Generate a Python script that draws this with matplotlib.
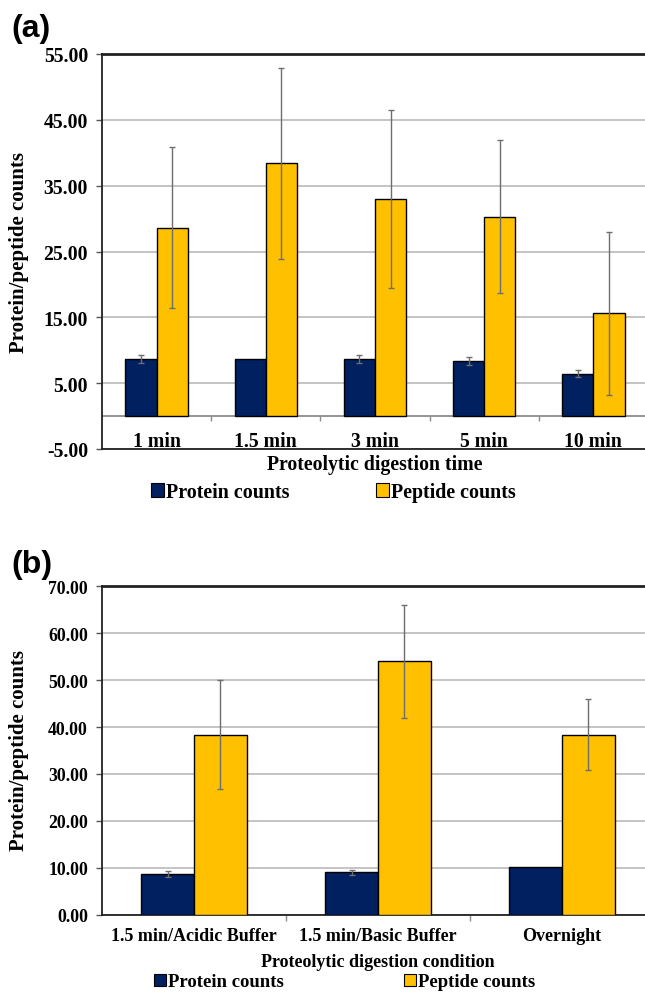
import matplotlib
matplotlib.use("Agg")
import matplotlib.pyplot as plt
from matplotlib.patches import Patch
import numpy as np

# panel (a): digestion time
times = ["1 min", "1.5 min", "3 min", "5 min", "10 min"]
prot_a = [8.7, 8.7, 8.7, 8.35, 6.45]
prot_a_err = [0.63, np.nan, 0.63, 0.6, 0.58]
pep_a = [28.6, 38.4, 33.0, 30.3, 15.6]
pep_a_err = [12.25, 14.5, 13.5, 11.6, 12.35]

# panel (b): digestion condition
conds = ["1.5 min/Acidic Buffer", "1.5 min/Basic Buffer", "Overnight"]
prot_b = [8.74, 9.0, 10.1]
prot_b_err = [0.64, 0.5, np.nan]
pep_b = [38.4, 54.0, 38.4]
pep_b_err = [11.6, 12.1, 7.5]

NAVY = "#002060"
GOLD = "#FFC000"
GRID = "#BFBFBF"
SERIF = "Liberation Serif"

W = 1 / 3.5  # excel gap width 150%


def draw_panel(ax, cats, prot, prot_err, pep, pep_err, yticks, ylim, xlabel,
               lab_y, xlab_y, fs, tfs):
    x = np.arange(len(cats))
    ekw = dict(ecolor="#6e6e6e", elinewidth=1.0, capsize=2.5, capthick=1.0)
    ax.bar(x - W / 2, prot, W, color=NAVY, edgecolor="black", linewidth=1.0,
           yerr=prot_err, error_kw=ekw, zorder=3)
    ax.bar(x + W / 2, pep, W, color=GOLD, edgecolor="black", linewidth=1.0,
           yerr=pep_err, error_kw=ekw, zorder=3)
    ax.set_xlim(-0.5, len(cats) - 0.5)
    ax.set_ylim(*ylim)
    ax.set_yticks(yticks)
    ax.set_yticklabels(["%.2f" % v for v in yticks], fontfamily=SERIF,
                       fontweight="bold", fontsize=tfs)
    ax.yaxis.grid(True, color=GRID, linewidth=1.3, zorder=0)
    ax.set_axisbelow(True)
    ax.tick_params(axis="y", length=4, width=1, color="#555555", pad=6)
    ax.set_xticks([])
    for sp in ["left", "bottom"]:
        ax.spines[sp].set_linewidth(1.3)
        ax.spines[sp].set_color("#222222")
    ax.spines["top"].set_linewidth(2.0)
    ax.spines["top"].set_color("#222222")
    ax.spines["right"].set_visible(False)
    for i, c in enumerate(cats):
        ax.text(i, lab_y, c, ha="center", va="center", fontfamily=SERIF,
                fontweight="bold", fontsize=fs, clip_on=False)
    ax.text(0.5, xlab_y, xlabel, transform=ax.transAxes, ha="center", va="center",
            fontfamily=SERIF, fontweight="bold", fontsize=fs)


fig = plt.figure(figsize=(6.45, 9.95), dpi=100)

ax1 = fig.add_axes([102 / 645, 1 - 450 / 995, 546 / 645, 395 / 995])
draw_panel(ax1, times, prot_a, prot_a_err, pep_a, pep_a_err,
           [-5, 5, 15, 25, 35, 45, 55], (-5, 55),
           "Proteolytic digestion time", -3.8, -0.038, 14.2, 14.2)
# category axis sits at zero in panel (a)
ax1.axhline(0, color="#8c8c8c", linewidth=1.3, zorder=1)
ax1.vlines(np.arange(0.5, len(times) - 0.5), -0.75, 0, color="#8c8c8c", linewidth=1.0)

ax2 = fig.add_axes([102 / 645, 1 - 915.7 / 995, 552 / 645, 328.4 / 995])
draw_panel(ax2, conds, prot_b, prot_b_err, pep_b, pep_b_err,
           [0, 10, 20, 30, 40, 50, 60, 70], (0, 70),
           "Proteolytic digestion condition", -4.5, -0.141, 13.0, 12.8)
ax2.vlines(np.arange(0.5, len(conds) - 0.5), -1.3, 0, color="#8c8c8c",
           linewidth=1.0, clip_on=False)

ylab = dict(rotation=90, ha="center", va="center", fontfamily=SERIF,
            fontweight="bold", fontsize=15)
fig.text(19 / 645, 1 - 252.5 / 995, "Protein/peptide counts", **ylab)
fig.text(19 / 645, 1 - 751 / 995, "Protein/peptide counts", **ylab)

panel_kw = dict(ha="center", va="center", fontfamily="Liberation Sans",
                fontweight="bold", fontsize=23)
fig.text(31 / 645, 1 - 29 / 995, "(a)", **panel_kw)
fig.text(32 / 645, 1 - 565 / 995, "(b)", **panel_kw)

handles = [Patch(facecolor=NAVY, edgecolor="black", linewidth=0.8),
           Patch(facecolor=GOLD, edgecolor="black", linewidth=0.8)]
names = ["Protein counts", "Peptide counts"]
fig.legend(handles, names, loc="center", bbox_to_anchor=(333.5 / 645, 1 - 493 / 995),
           ncol=2, frameon=False, prop=dict(family=SERIF, weight="bold", size=14.4),
           handlelength=0.65, handleheight=0.65, handletextpad=0.1,
           columnspacing=4.3, borderpad=0)
fig.legend(handles, names, loc="center", bbox_to_anchor=(345 / 645, 1 - 983 / 995),
           ncol=2, frameon=False, prop=dict(family=SERIF, weight="bold", size=13.5),
           handlelength=0.6, handleheight=0.6, handletextpad=0.15,
           columnspacing=6.4, borderpad=0)

fig.savefig("out.png", dpi=100)
